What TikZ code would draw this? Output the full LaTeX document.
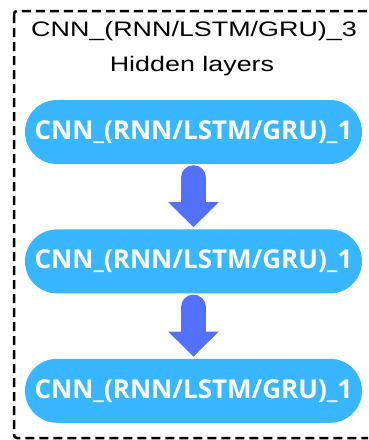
\documentclass[tikz,border=0pt]{standalone}
\usepackage{fontspec}
\setmainfont{Open Sans}
\newfontfamily\headfont[FakeStretch=1.28]{Liberation Sans}
\usetikzlibrary{positioning,arrows.meta}
\definecolor{layerblue}{HTML}{38B6FF}
\definecolor{flowblue}{HTML}{5271FF}
\tikzset{
	layer/.style={fill=layerblue, text=white, font=\bfseries\fontsize{26}{30}\selectfont,
		rounded corners=32pt, minimum width=337pt, minimum height=64pt, inner sep=0pt},
	flow/.style={flowblue, line width=25pt, line cap=round,
		-{Triangle[length=25pt,width=49pt]}, shorten <=13.5pt, shorten >=2pt},
	heading/.style={font=\headfont\fontsize{21}{25}\selectfont},
	frame/.style={line width=2.5pt, dash pattern=on 9pt off 5pt, rounded corners=3pt}
}
\begin{document}
\begin{tikzpicture}[x=1pt, y=-1pt]
		\clip (0, 0) rectangle (368, 440);
		\draw[frame] (14, 11) rectangle (390, 438);
		\node[heading] (title) at (194, 31) {CNN\_(RNN/LSTM/GRU)\_3};
		\node[heading] (sub) at (192, 66) {Hidden layers};
		% stacked layers
		\node[layer] (l1) at (193.5, 132) {CNN\_(RNN/LSTM/GRU)\_1};
		\node[layer, below=65pt of l1] (l2) {CNN\_(RNN/LSTM/GRU)\_1};
		\node[layer, below=65pt of l2] (l3) {CNN\_(RNN/LSTM/GRU)\_1};
		\draw[flow] (l1) -- (l2);
		\draw[flow] (l2) -- (l3);
	\end{tikzpicture}
\end{document}
